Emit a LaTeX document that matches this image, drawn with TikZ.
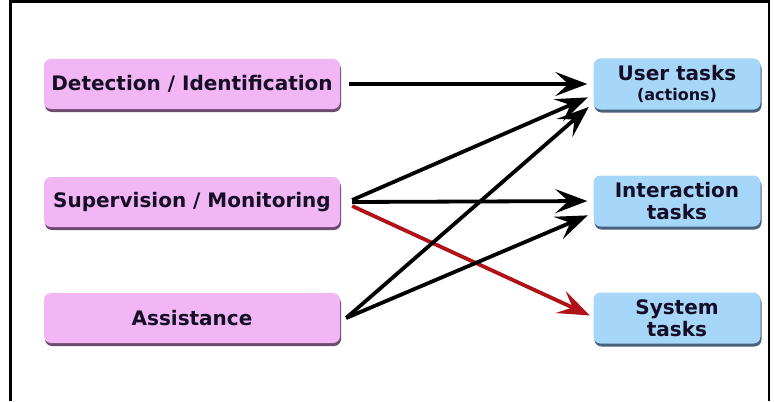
\documentclass[tikz,border=0pt]{standalone}
\usepackage{fontspec}
\setmainfont{DejaVu Sans}
\usetikzlibrary{positioning, arrows.meta, calc, shadows}

\definecolor{pinkbox}{HTML}{F2B6F4}
\definecolor{pinkshade}{HTML}{5E3560}
\definecolor{bluebox}{HTML}{A6D6F8}
\definecolor{blueshade}{HTML}{34506E}
\definecolor{darkred}{HTML}{B01218}
\definecolor{inktext}{HTML}{140F26}

\begin{document}
\begin{tikzpicture}[
    x=1pt, y=-1pt,
    block/.style={rectangle, rounded corners=7pt, align=center, text=inktext,
        inner sep=0pt, font=\fontsize{20}{22}\selectfont\bfseries},
    source/.style={block, fill=pinkbox, minimum width=296pt, minimum height=50pt,
        drop shadow={shadow xshift=1pt, shadow yshift=-3pt, fill=pinkshade, opacity=0.9}},
    task/.style={block, fill=bluebox, minimum width=167pt, minimum height=51pt,
        drop shadow={shadow xshift=1pt, shadow yshift=-3pt, fill=blueshade, opacity=0.9}},
    arrow/.style={-{Stealth[length=32pt, width=24pt, inset=13pt]}, line width=3.8pt, shorten >=6pt},
]
\useasboundingbox (0,0) rectangle (775,401);

% Frame
\draw[line width=2.5pt] (10.5,401) -- (10.5,1.5) -- (769,1.5) -- (769,401);

% Sources
\node[source] (detect) at (192,84) {Detection / Identification};
\node[source] (superv) at (192,202) {Supervision / Monitoring};
\node[source] (assist) at (192,318) {Assistance};

% Tasks
\node[task] (user) at (677,84) {User tasks\\[-2pt]{\fontsize{16}{18}\selectfont (actions)}};
\node[task] (inter) at (677,201) {Interaction\\tasks};
\node[task] (system) at (677,318) {System\\tasks};

% Connections
\draw[arrow, shorten <=9pt] (detect.east) -- (user.west);
\draw[arrow] ($(superv.east)+(12,-2)$) -- ($(user.west)+(0,11)$);
\draw[arrow] ($(superv.east)+(12,0)$) -- (inter.west);
\draw[arrow, darkred] ($(superv.east)+(12,4)$) -- ($(system.west)+(2,0)$);
\draw[arrow] ($(assist.east)+(6,0)$) -- ($(user.west)+(0,19)$);
\draw[arrow] ($(assist.east)+(6,0)$) -- ($(inter.west)+(0,12)$);

\end{tikzpicture}
\end{document}
